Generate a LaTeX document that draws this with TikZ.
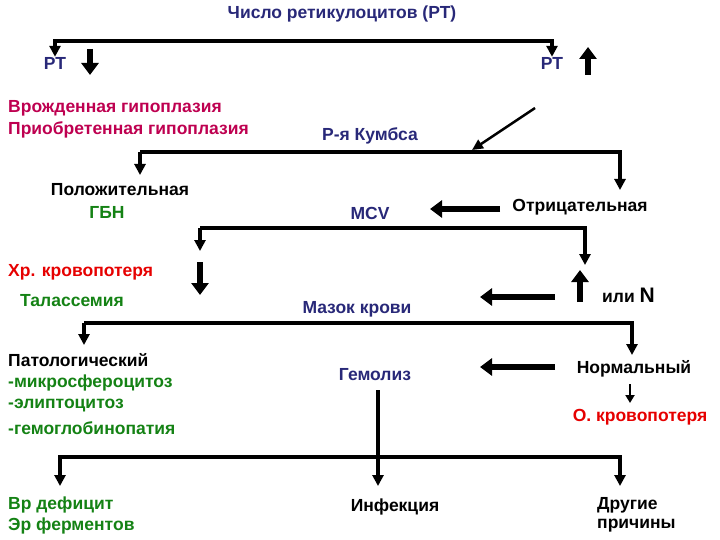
\documentclass[tikz,border=0pt]{standalone}
\usepackage{fontspec}
\setmainfont{Liberation Sans}
\usetikzlibrary{arrows.meta,positioning}
\definecolor{navy}{RGB}{40,40,120}
\definecolor{plum}{RGB}{190,0,80}
\definecolor{leaf}{RGB}{20,130,20}
\definecolor{blood}{RGB}{230,0,0}
\begin{document}
\begin{tikzpicture}[x=1pt,y=-1pt,
  txt/.style={inner sep=0pt,font=\fontsize{17.5}{19}\selectfont\bfseries},
  lft/.style={txt,anchor=west},
  branch/.style={line width=3.5pt,-{Triangle[length=11pt,width=11pt]}},
  thick arrow/.style={line width=5.5pt,-{Triangle[length=12pt,width=17pt]}},
  thin arrow/.style={line width=2.2pt,-{Triangle[length=8pt,width=9pt]}}]
  \useasboundingbox (0,0) rectangle (720,540);
  % Top level
  \node[txt,navy] (count) at (342,14) {Число ретикулоцитов (РТ)};
  \node[txt,navy] (rt low) at (55,63) {РТ};
  \node[txt,navy] (rt high) at (552,63) {РТ};
  \coordinate (c top) at (342,41);
  \draw[branch] (c top) -| (rt low.north);
  \draw[branch] (c top) -| (rt high.north);
  \coordinate (low a) at (90,49); \coordinate (low b) at (90,75);
  \draw[thick arrow] (low a) -- (low b);
  \coordinate (high a) at (588,75); \coordinate (high b) at (588,47);
  \draw[thick arrow] (high a) -- (high b);
  \node[lft,plum] (hypo 1) at (8,108) {Врожденная гипоплазия};
  \node[lft,plum] (hypo 2) at (8,130) {Приобретенная гипоплазия};
  % Coombs
  \node[txt,navy] (coombs) at (370,136) {Р-я Кумбса};
  \coordinate (diag) at (535,108);
  \draw[line width=2.5pt,-{Triangle[length=11pt,width=10pt]}] (diag) -- (472,150);
  \node[txt] (pos) at (120,190) {Положительная};
  \node[txt,leaf] (gbn) at (107,212) {ГБН};
  \node[txt] (neg) at (580,207) {Отрицательная};
  \coordinate (k left) at (140,152);
  \draw[branch] (k left) -- (140,175);
  \draw[branch] (k left) -- (620,152) -- (620,190);
  % MCV
  \node[txt,navy] (mcv) at (370,213) {MCV};
  \draw[thick arrow] (500,209) -- (430,209);
  \coordinate (m left) at (200,228);
  \draw[branch] (m left) -- (200,251);
  \draw[branch] (m left) -- (585,228) -- (585,265);
  \node[lft,blood] (blood loss) at (8,272) {Хр. кровопотеря};
  \node[lft,leaf] (thal) at (20,301) {Талассемия};
  \draw[thick arrow] (200,262) -- (200,295);
  \draw[thick arrow] (580,302) -- (580,270);
  \node[lft] (or n) at (602,295) {или \fontsize{21}{21}\selectfont N};
  % Smear
  \node[txt,navy] (smear) at (357,309) {Мазок крови};
  \draw[thick arrow] (555,297) -- (480,297);
  \coordinate (s left) at (84,323);
  \draw[branch] (s left) -- (84,345);
  \draw[branch] (s left) -- (632,323) -- (632,355);
  \node[lft] (path) at (8,360) {Патологический};
  \node[lft,leaf] (path 1) at (8,383) {-микросфероцитоз};
  \node[lft,leaf] (path 2) at (8,406) {-элиптоцитоз};
  \node[lft,leaf] (path 3) at (8,428) {-гемоглобинопатия};
  \node[txt] (normal) at (634,369) {Нормальный};
  \node[txt,blood] (acute) at (640,417) {О. кровопотеря};
  \draw[thin arrow] (630,384) -- (630,403);
  % Hemolysis
  \node[txt,navy] (hemo) at (375,375) {Гемолиз};
  \draw[thick arrow] (555,367) -- (480,367);
  \coordinate (h mid) at (378,457);
  \draw[line width=4pt] (378,390) -- (h mid);
  \draw[branch,line width=4pt] (h mid) -- (60,457) -- (60,486);
  \draw[branch,line width=4pt] (h mid) -- (378,486);
  \draw[branch,line width=4pt] (h mid) -- (620,457) -- (620,486);
  \node[lft,leaf] (def 1) at (8,505) {Вр дефицит};
  \node[lft,leaf] (def 2) at (8,526) {Эр ферментов};
  \node[txt] (infect) at (395,507) {Инфекция};
  \node[lft] (other 1) at (597,505) {Другие};
  \node[lft] (other 2) at (597,526) {причины};
\end{tikzpicture}
\end{document}
